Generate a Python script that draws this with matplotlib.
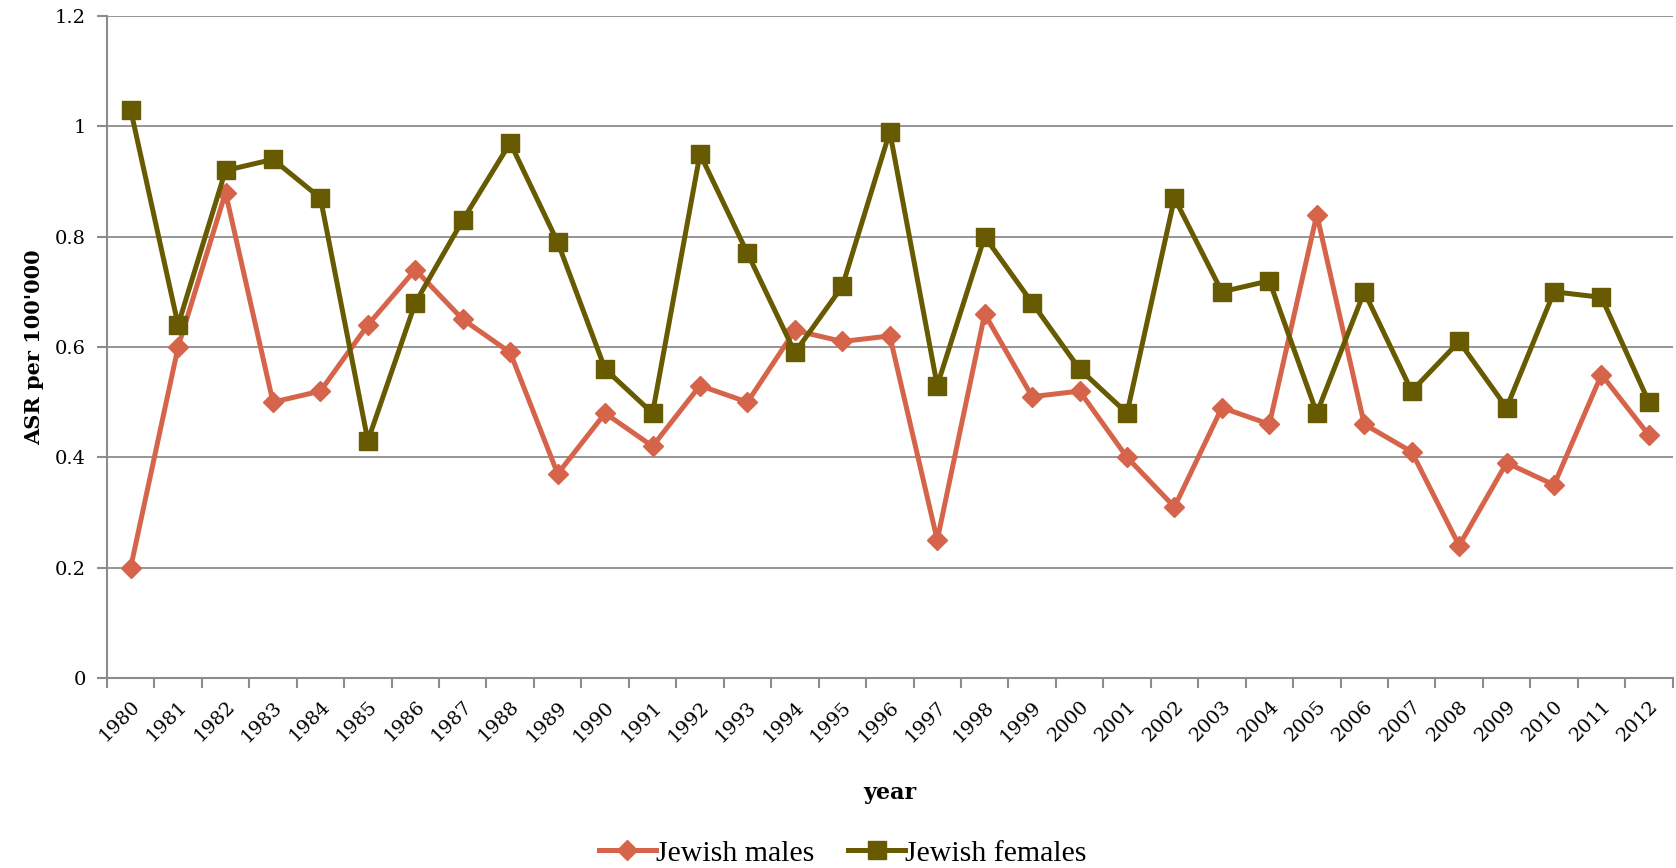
import numpy as np
import matplotlib
matplotlib.use("Agg")
import matplotlib.pyplot as plt
from matplotlib.ticker import FixedLocator

years = [str(y) for y in range(1980, 2013)]
males = [0.20, 0.60, 0.88, 0.50, 0.52, 0.64, 0.74, 0.65, 0.59, 0.37, 0.48,
         0.42, 0.53, 0.50, 0.63, 0.61, 0.62, 0.25, 0.66, 0.51, 0.52, 0.40,
         0.31, 0.49, 0.46, 0.84, 0.46, 0.41, 0.24, 0.39, 0.35, 0.55, 0.44]
females = [1.03, 0.64, 0.92, 0.94, 0.87, 0.43, 0.68, 0.83, 0.97, 0.79, 0.56,
           0.48, 0.95, 0.77, 0.59, 0.71, 0.99, 0.53, 0.80, 0.68, 0.56, 0.48,
           0.87, 0.70, 0.72, 0.48, 0.70, 0.52, 0.61, 0.49, 0.70, 0.69, 0.50]
yticks = [0, 0.2, 0.4, 0.6, 0.8, 1.0, 1.2]
ytick_labels = ['0', '0.2', '0.4', '0.6', '0.8', '1', '1.2']

male_color = '#D6644A'
female_color = '#675A00'
grid_color = '#8C8C8C'

fig = plt.figure(figsize=(16.76, 8.68), dpi=100)
ax = fig.add_axes([0.0638, 0.2189, 0.9342, 0.7627])

x = np.arange(len(years))
ax.plot(x, males, color=male_color, lw=3.6, marker='D', ms=10,
        label='Jewish males', zorder=3)
ax.plot(x, females, color=female_color, lw=3.6, marker='s', ms=13,
        label='Jewish females', zorder=4)

ax.set_xlim(-0.5, len(years) - 0.5)
ax.set_ylim(0, 1.2)
ax.set_yticks(yticks)
ax.set_yticklabels(ytick_labels, family='DejaVu Serif', fontsize=14)

# category labels at centres, tick marks between categories
ax.set_xticks(x)
ax.set_xticklabels(years, rotation=45, ha='right', rotation_mode='anchor',
                   family='DejaVu Serif', fontsize=14)
ax.tick_params(axis='x', which='major', length=0, pad=14)
ax.xaxis.set_minor_locator(FixedLocator(np.arange(-0.5, len(years), 1.0)))
ax.tick_params(axis='x', which='minor', length=7, width=1.5, color=grid_color)
ax.tick_params(axis='y', length=7, width=1.5, color=grid_color, pad=8)

ax.grid(axis='y', color=grid_color, lw=1.3)
ax.set_axisbelow(True)
for side in ['top', 'right']:
    ax.spines[side].set_visible(False)
for side in ['left', 'bottom']:
    ax.spines[side].set_color(grid_color)
    ax.spines[side].set_linewidth(1.5)

ax.set_ylabel("ASR per 100'000", family='DejaVu Serif', fontweight='bold',
              fontsize=15, labelpad=8)
ax.set_xlabel('year', family='DejaVu Serif', fontweight='bold', fontsize=16)
ax.xaxis.set_label_coords(0.5, -0.157)

ax.legend(loc='center', bbox_to_anchor=(0.47, -0.265), ncol=2, frameon=False,
          prop={'family': 'Liberation Serif', 'size': 21.5},
          handlelength=1.9, handletextpad=0.0, columnspacing=1.15)

fig.savefig('out.png', dpi=100)
